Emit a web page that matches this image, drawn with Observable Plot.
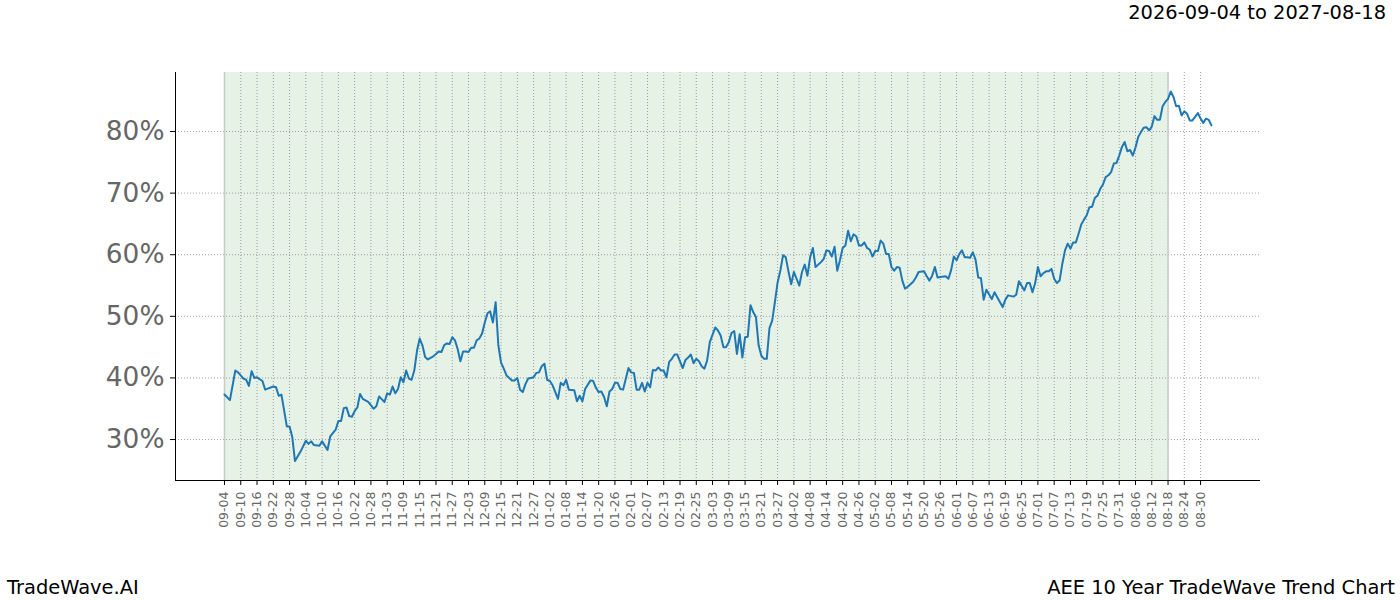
<!DOCTYPE html>
<html>
<head>
<meta charset="utf-8">
<script src="https://cdn.jsdelivr.net/npm/d3@7"></script>
<script src="https://cdn.jsdelivr.net/npm/@observablehq/plot@0.6"></script>
<style>
  html, body { margin: 0; padding: 0; background: #fff; }
  #wrap { position: relative; width: 1400px; height: 600px; font-family: "DejaVu Sans", sans-serif; }
  .lbl { position: absolute; font-size: 19.44px; line-height: 1; color: #000; white-space: nowrap; }
  #chart svg [aria-label="y-axis tick label"], #chart svg [aria-label="x-axis tick label"] { fill: #666; color: #666; }
</style>
</head>
<body>
<div id="wrap">
  <div id="chart"></div>
  <div class="lbl" id="title" style="right:14px; top:2.5px;">2026-09-04 to 2027-08-18</div>
  <div class="lbl" id="footL" style="left:7px; top:577.5px;">TradeWave.AI</div>
  <div class="lbl" id="footR" style="right:5px; top:577.5px;">AEE 10 Year TradeWave Trend Chart</div>
</div>
<script>
// ---- data ----
const startDate = "2026-09-04";
const spanStart = "2026-09-04";
const spanEnd = "2027-08-18";

// calendar days since 2026-09-04 for each trading-day observation
const dayOffsets = [
  0,2,4,5,7,8,9,10,11,12,14,15,18,19,20,21,23,24,25,26,28,30,31,32,33,35,36,38,39,41,42,43,44,45,46,47,48,49,50,51,
  53,55,56,57,59,60,61,62,63,64,65,66,67,68,69,70,71,72,73,74,75,77,78,79,80,81,82,83,84,85,86,87,88,89,90,91,92,93,94,95,
  96,97,98,99,100,101,102,103,104,106,107,108,109,110,111,112,113,114,115,116,117,118,119,120,121,123,124,125,126,127,129,130,131,132,133,135,136,137,138,139,
  140,141,142,143,144,145,146,147,149,150,151,152,153,154,155,156,157,158,159,160,161,162,163,164,165,166,167,169,170,171,172,173,174,175,176,177,178,179,181,182,
  183,184,185,186,187,188,189,190,191,192,193,194,195,196,197,198,199,200,201,202,203,204,205,206,207,208,209,210,211,212,213,214,215,216,217,218,220,221,222,223,
  224,225,226,227,228,229,230,231,232,233,234,235,236,237,238,239,240,241,242,243,244,245,246,247,248,249,250,251,252,254,255,256,258,259,260,261,262,263,264,266,
  267,268,269,270,271,272,273,274,275,276,277,278,279,280,281,283,284,285,287,288,289,291,292,293,295,296,297,298,299,300,301,302,303,304,305,306,307,308,309,310,
  311,312,313,314,315,316,317,318,319,320,321,322,323,324,325,326,327,328,329,330,331,332,333,334,335,336,337,338,339,340,341,342,343,344,345,346,347,348,349,350,
  351,352,353,354,355,356,357,359,360,361,362,363,364
];

// trend value (%)
const values = [
  37.3,36.4,41.2,40.9,39.9,39.7,38.7,41.1,40.0,40.1,39.5,38.1,38.6,38.5,37.1,37.3,32.1,32.1,30.4,26.5,28.0,29.8,29.3,29.7,29.1,29.0,29.7,28.3,30.5,31.6,33.0,33.0,35.1,35.2,33.8,33.7,34.6,35.2,37.4,36.6,
  36.1,35.0,35.4,37.0,36.1,37.5,37.3,38.6,37.5,38.2,40.1,39.3,41.2,39.9,39.7,41.2,44.4,46.4,45.3,43.4,43.0,43.5,43.9,44.3,44.2,45.3,45.6,45.5,46.6,46.1,44.7,42.7,44.3,44.3,44.2,44.9,44.9,46.1,46.4,47.2,
  49.0,50.5,50.8,49.0,52.3,45.3,42.5,41.5,40.4,39.6,39.6,40.0,38.1,37.7,39.0,39.9,40.0,40.1,40.8,40.9,41.9,42.3,39.7,39.5,38.8,36.6,39.2,38.8,39.7,38.1,38.0,36.2,37.1,36.2,38.2,39.6,39.5,38.4,37.7,37.8,
  36.9,35.4,37.8,38.2,39.2,39.2,38.2,38.1,41.6,40.9,40.8,38.1,38.1,39.2,37.8,39.2,38.5,41.3,41.2,41.7,41.2,41.2,40.1,42.6,43.1,43.8,43.8,41.6,42.9,43.3,43.8,42.4,43.1,42.7,41.9,41.5,42.8,45.8,48.2,47.7,
  46.9,45.0,45.0,45.8,47.3,47.6,43.9,47.1,43.3,46.6,46.7,51.8,50.7,49.9,45.3,43.6,43.1,43.1,48.1,49.3,52.3,55.5,57.4,59.9,59.6,57.3,55.2,57.2,56.1,55.0,57.2,58.4,56.6,59.6,61.1,58.0,58.8,59.3,60.7,60.6,
  59.7,61.3,57.4,59.1,61.1,61.5,63.9,62.2,63.3,63.0,61.5,61.5,62.0,61.1,60.8,59.7,60.6,60.6,62.3,61.8,60.1,60.1,58.0,57.4,58.0,57.9,55.8,54.5,54.8,55.6,56.3,57.2,57.3,56.5,55.8,56.6,58.0,56.3,56.4,56.5,
  56.1,57.5,59.7,59.1,60.1,60.7,59.6,59.6,59.5,60.4,59.2,56.3,56.2,52.7,54.3,52.8,53.9,53.1,51.5,52.7,53.4,53.2,53.5,55.7,54.2,55.4,55.4,53.9,55.4,58.0,56.5,57.0,57.3,57.3,57.7,56.1,55.4,55.8,58.5,60.7,
  61.8,61.0,62.0,62.0,63.4,64.9,65.7,66.4,67.7,67.8,69.2,69.6,70.7,71.4,72.6,72.9,73.4,74.8,74.9,76.1,77.5,78.3,76.8,77.0,76.1,77.4,79.1,79.9,80.6,80.7,80.2,80.8,82.5,81.9,81.9,84.1,84.8,85.3,86.5,85.6,
  84.1,84.2,82.6,83.3,82.9,81.8,81.8,83.0,82.1,81.4,82.1,81.9,81.0
];

const yTicks = [30, 40, 50, 60, 70, 80];
const xTickDates = [
  "2026-09-04","2026-09-10","2026-09-16","2026-09-22","2026-09-28","2026-10-04","2026-10-10","2026-10-16","2026-10-22","2026-10-28",
  "2026-11-03","2026-11-09","2026-11-15","2026-11-21","2026-11-27","2026-12-03","2026-12-09","2026-12-15","2026-12-21","2026-12-27",
  "2027-01-02","2027-01-08","2027-01-14","2027-01-20","2027-01-26","2027-02-01","2027-02-07","2027-02-13","2027-02-19","2027-02-25",
  "2027-03-03","2027-03-09","2027-03-15","2027-03-21","2027-03-27","2027-04-02","2027-04-08","2027-04-14","2027-04-20","2027-04-26",
  "2027-05-02","2027-05-08","2027-05-14","2027-05-20","2027-05-26","2027-06-01","2027-06-07","2027-06-13","2027-06-19","2027-06-25",
  "2027-07-01","2027-07-07","2027-07-13","2027-07-19","2027-07-25","2027-07-31","2027-08-06","2027-08-12","2027-08-18","2027-08-24","2027-08-30"
];

// ---- build ----
const DAY = 864e5;
const t0 = new Date(startDate + "T00:00:00Z").getTime();
const series = dayOffsets.map((d, i) => ({ date: new Date(t0 + d * DAY), value: values[i] }));
const ticks = xTickDates.map(s => new Date(s + "T00:00:00Z"));
const xDomain = [new Date(t0 - 18.07 * DAY), new Date(t0 + 382.1 * DAY)];
const yDomain = [23.35, 89.58];
const span = [{ x1: new Date(spanStart + "T00:00:00Z"), x2: new Date(spanEnd + "T00:00:00Z") }];

const chart = Plot.plot({
  width: 1400,
  height: 600,
  marginLeft: 175,
  marginRight: 140,
  marginTop: 72,
  marginBottom: 120,
  style: { fontFamily: "DejaVu Sans, sans-serif", fontSize: "12.5px", color: "#000", background: "#fff" },
  x: { type: "utc", domain: xDomain },
  y: { domain: yDomain },
  marks: [
    Plot.rect(span, { x1: "x1", x2: "x2", fill: "green", fillOpacity: 0.1 }),
    Plot.gridY(yTicks, { stroke: "#888", strokeOpacity: 1, strokeWidth: 0.8, strokeDasharray: "1,2" }),
    Plot.gridX(ticks, { stroke: "#888", strokeOpacity: 1, strokeWidth: 0.8, strokeDasharray: "1,2" }),
    Plot.ruleX(span.flatMap(d => [d.x1, d.x2]), { stroke: "#c4cec4", strokeWidth: 1.5 }),
    Plot.line(series, { x: "date", y: "value", stroke: "#1f77b4", strokeWidth: 2 }),
    Plot.ruleX([xDomain[0]], { stroke: "#000", strokeWidth: 1 }),
    Plot.ruleY([yDomain[0]], { stroke: "#000", strokeWidth: 1 }),
    Plot.axisY({ ticks: yTicks, tickFormat: d => d + "%", tickSize: 5, tickPadding: 6, fontSize: 26.4, label: null }),
    Plot.axisX({ ticks: ticks, tickFormat: d3.utcFormat("%m-%d"), tickRotate: -90, tickSize: 5, tickPadding: 6, fontSize: 12.5, label: null })
  ]
});
document.getElementById("chart").appendChild(chart);
</script>
</body>
</html>
